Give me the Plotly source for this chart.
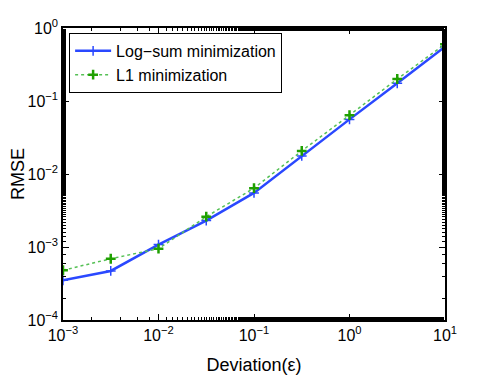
import plotly.graph_objects as go

x_vals = [1e-3, 3.162e-3, 1e-2, 3.162e-2, 1e-1, 3.162e-1, 1.0, 3.162, 10.0]
logsum_rmse = [3.5e-4, 4.7e-4, 1.08e-3, 2.3e-3, 5.5e-3, 1.77e-2, 5.6e-2, 0.175, 0.555]
l1_rmse = [4.8e-4, 6.9e-4, 9.5e-4, 2.6e-3, 6.4e-3, 2.07e-2, 6.4e-2, 0.2, 0.6]

x_tick_vals = [1e-3, 1e-2, 1e-1, 1e0, 1e1]
x_tick_text = ["10<sup>\u22123</sup>", "10<sup>\u22122</sup>", "10<sup>\u22121</sup>", "10<sup>0</sup>", "10<sup>1</sup>"]
y_tick_vals = [1e-4, 1e-3, 1e-2, 1e-1, 1e0]
y_tick_text = ["10<sup>\u22124</sup>", "10<sup>\u22123</sup>", "10<sup>\u22122</sup>", "10<sup>\u22121</sup>", "10<sup>0</sup>"]

series_names = ["Log\u2212sum minimization", "L1 minimization"]
x_title = "Deviation(\u03b5)"
y_title = "RMSE"

font = "Liberation Sans, Arial, sans-serif"

fig = go.Figure()
fig.add_trace(go.Scatter(
    x=x_vals, y=logsum_rmse, name=series_names[0], mode="lines+markers",
    line=dict(color="#2a48ff", width=2.5),
    marker=dict(symbol="cross-thin", size=7, line=dict(color="#2a48ff", width=1.5)),
))
fig.add_trace(go.Scatter(
    x=x_vals, y=l1_rmse, name=series_names[1], mode="lines+markers",
    line=dict(color="#55c055", width=1.5, dash="dot"),
    marker=dict(symbol="cross-thin", size=7, line=dict(color="#1fa000", width=2.5)),
))

axis_common = dict(
    type="log", showline=True, linecolor="black", linewidth=1.5, mirror="ticks",
    ticks="inside", ticklen=6, tickcolor="black", tickwidth=1,
    showgrid=False, zeroline=False, automargin=False,
    tickfont=dict(family=font, size=16, color="black"),
    minor=dict(ticks="inside", ticklen=3, tickcolor="black", tickwidth=1, showgrid=False),
)

fig.update_xaxes(range=[-3, 1], tickvals=x_tick_vals, ticktext=x_tick_text,
                 title=dict(text=x_title, font=dict(family=font, size=18, color="black"), standoff=16), **axis_common)
fig.update_yaxes(range=[-4, 0], tickvals=y_tick_vals, ticktext=y_tick_text,
                 title=dict(text=y_title, font=dict(family=font, size=18, color="black"), standoff=0), **axis_common)

fig.update_layout(
    width=483, height=367,
    margin=dict(l=55, r=46, t=20, b=55),
    paper_bgcolor="white", plot_bgcolor="white",
    font=dict(family=font, color="black"),
    legend=dict(
        x=0.016, y=0.983, xanchor="left", yanchor="top",
        bgcolor="white", bordercolor="black", borderwidth=1,
        font=dict(family=font, size=16, color="black"),
        tracegroupgap=0, itemwidth=36,
    ),
)

fig.write_html("out.html")
